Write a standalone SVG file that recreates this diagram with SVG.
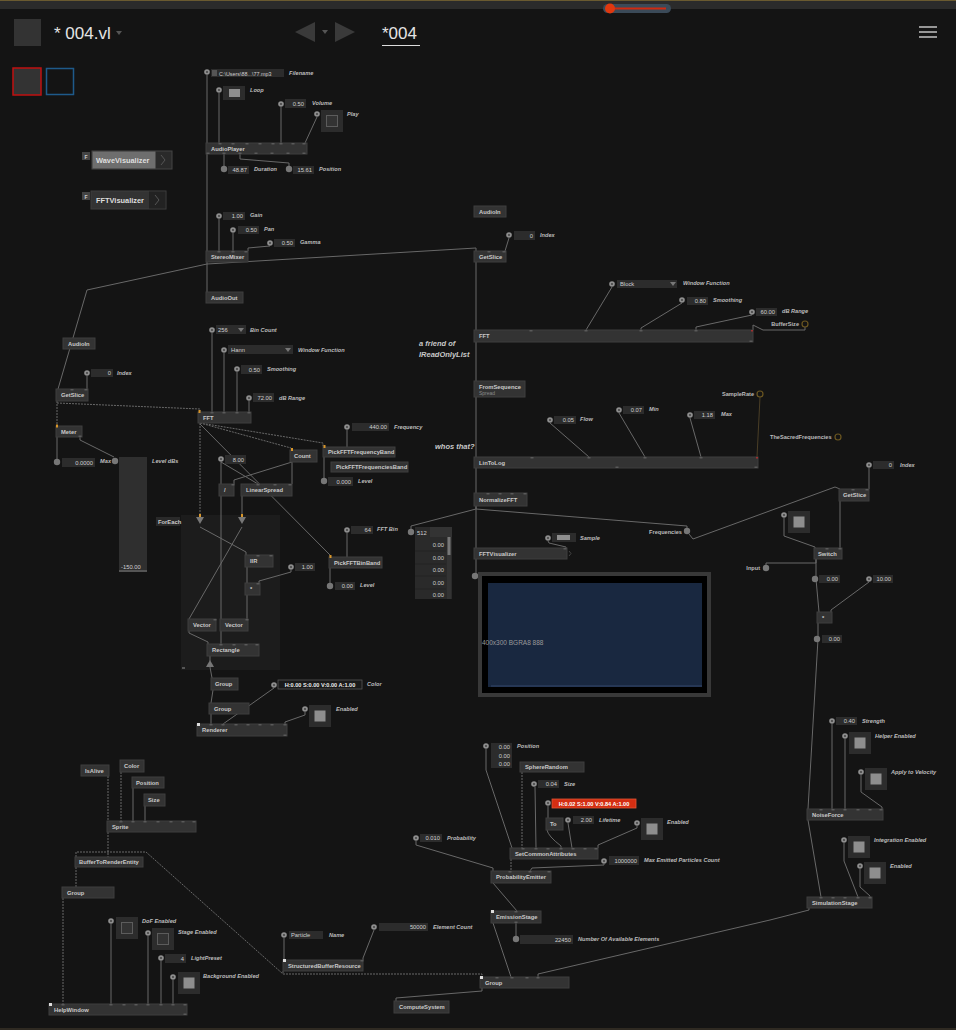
<svg xmlns="http://www.w3.org/2000/svg" xmlns:xlink="http://www.w3.org/1999/xlink" width="956" height="1030" viewBox="0 0 956 1030">
<defs>
<style>
.n{fill:#333;stroke:#3f3f3f;stroke-width:1}
.t{font-family:"Liberation Sans",Arial,sans-serif;font-size:5.8px;font-weight:bold;fill:#cacaca}
.l{font-family:"Liberation Sans",Arial,sans-serif;font-size:5.6px;font-weight:bold;font-style:italic;fill:#bdbdbd}
.p{font-family:"Liberation Sans",Arial,sans-serif;font-size:5.6px;font-weight:bold;fill:#bdbdbd}
.pe{font-family:"Liberation Sans",Arial,sans-serif;font-size:5.6px;font-weight:bold;fill:#bdbdbd;text-anchor:end}
.v{font-family:"Liberation Sans",Arial,sans-serif;font-size:5.8px;fill:#cfcfcf;text-anchor:end}
.vl{font-family:"Liberation Sans",Arial,sans-serif;font-size:5.8px;fill:#cfcfcf}
.c{font-family:"Liberation Sans",Arial,sans-serif;font-size:7.5px;font-weight:bold;font-style:italic;fill:#c8c8c8}
.b{fill:#2c2c2c}
.w{fill:none;stroke:#686868;stroke-width:1}
.d{fill:none;stroke:#686868;stroke-width:1;stroke-dasharray:2 1}
.on{fill:#8e8e8e}
.off{fill:#333;stroke:#5c5c5c;stroke-width:1}
.or{fill:#d8962a}
.hc{fill:none;stroke:#6b5620;stroke-width:1.2}
.hd{font-family:"Liberation Sans",Arial,sans-serif;font-size:17px;fill:#e4e4e4}
.pt{fill:#5a5a5a}
</style>
<g id="pin"><circle r="2.8" fill="#8e8e8e"/><circle r="0.9" fill="#3a3a3a"/></g>
<circle id="pout" r="3.2" fill="#777"/>
<g id="tgon"><rect width="22" height="22" class="b"/><rect x="5.5" y="5.5" width="11" height="11" class="on"/></g>
<g id="tgoff"><rect width="22" height="22" class="b"/><rect x="5.5" y="5.5" width="11" height="11" class="off"/></g>
<polygon id="dd" points="-3,-2 3,-2 0,2" fill="#777"/>
<polygon id="spd" points="-4,0 4,0 0,7" fill="#777"/>
<rect id="tab" x="-1.5" width="3" height="1.5" class="pt"/>
</defs>

<rect width="956" height="1030" fill="#141414"/>
<g id="topbar">
<rect width="956" height="9" fill="#2b2b2b"/>
<line x1="0" y1="0.5" x2="956" y2="0.5" stroke="#6a5a30"/>
<rect x="603" y="4" width="68" height="9" rx="4.5" fill="#3b4a58"/>
<line x1="610" y1="8.5" x2="666" y2="8.5" stroke="#d02a10" stroke-width="2"/>
<circle cx="610" cy="8.5" r="5" fill="#e0380f"/>
<rect x="14" y="19" width="27" height="27" fill="#333"/>
<text class="hd" x="54" y="39">* 004.vl</text>
<polygon points="116,31 122,31 119,35" fill="#555"/>
<polygon points="295,32 315,22 315,42" fill="#3a3a3a"/>
<polygon points="322,30 328,30 325,34" fill="#555"/>
<polygon points="335,22 355,32 335,42" fill="#3a3a3a"/>
<text class="hd" x="382" y="39">*004</text>
<line x1="382" y1="45.5" x2="420" y2="45.5" stroke="#ddd"/>
<g stroke="#ddd" stroke-width="1.3"><line x1="919" y1="27" x2="937" y2="27"/><line x1="919" y1="32" x2="937" y2="32"/><line x1="919" y1="37" x2="937" y2="37"/></g>
<rect x="13" y="68" width="28" height="27" fill="#333" stroke="#c01010" stroke-width="1.5"/>
<rect x="46.5" y="68.5" width="27" height="26" fill="#141414" stroke="#1e5a8a" stroke-width="1.5"/>
</g>

<rect id="foreach-region" x="181" y="515" width="99" height="155" fill="#1c1c1c"/>

<g id="wires">
<path class="w" d="M207,75V143"/>
<path class="w" d="M219,93V143"/>
<path class="w" d="M281,107V143"/>
<path class="w" d="M317,117Q311,130 305,143"/>
<path class="w" d="M224,154V166"/>
<path class="w" d="M240,154V159L289,163V166"/>
<path class="w" d="M207,154V251"/>
<path class="w" d="M219,219V251"/>
<path class="w" d="M233,233V251"/>
<path class="w" d="M270,246L248,248V251"/>
<path class="w" d="M207,262V292"/>
<path class="w" d="M207,264L87,290L58,389"/>
<path class="w" d="M207,264L476,248V251"/>
<path class="w" d="M509,238L505,251"/>
<path class="w" d="M476,262V574"/>
<path class="w" d="M612,287L586,330"/>
<path class="w" d="M682,303L641,328V330"/>
<path class="w" d="M752,315L696,327V330"/>
<path class="w" d="M753,330V325L763,330H805V327"/>
<path class="w" d="M550,423L589,457"/>
<path class="w" d="M619,413L645,457"/>
<path class="w" d="M690,418L701,457"/>
<path fill="none" stroke="#4a3e26" d="M760,397L757,457"/>
<path class="w" d="M476,506V509L411,526V529"/>
<path class="w" d="M476,509L687,526V528"/>
<path class="w" d="M689,534L693,539L835,487L840,489"/>
<path class="w" d="M548,541L549,543L566,547V548"/>
<path class="w" d="M869,468V489"/>
<path class="w" d="M840,501V548"/>
<path class="w" d="M784,518V536L815,547V548"/>
<path class="w" d="M816,559V563H766V566"/>
<path class="w" d="M816,559V579L819,612"/>
<path class="w" d="M869,582L831,610V612"/>
<path class="w" d="M818,623V639L808,809"/>
<path class="w" d="M832,724V809"/>
<path class="w" d="M845,739V809"/>
<path class="w" d="M861,775V792L882,807V809"/>
<path class="w" d="M808,820L821,897"/>
<path class="w" d="M844,843V861L858,897"/>
<path class="w" d="M860,869V887L870,896V897"/>
<path class="w" d="M809,908V910L770,920L538,974V977"/>
<path class="w" d="M486,749V770L512,848"/>
<path class="d" d="M522,772V848"/>
<path class="w" d="M535,787L536,848"/>
<path class="w" d="M548,806V818"/>
<path class="w" d="M547,830Q548,836 561,846V848"/>
<path class="w" d="M568,823L572,848"/>
<path class="w" d="M637,826V828L598,845V848"/>
<path class="d" d="M511,859V871"/>
<path class="w" d="M416,841V845L493,868V871"/>
<path class="w" d="M604,864V865L532,868L530,871"/>
<path class="w" d="M493,883L517,911"/>
<path class="w" d="M516,923V936"/>
<path class="w" d="M493,923L511,977"/>
<path class="w" d="M284,938V960"/>
<path class="w" d="M374,930L363,958V960"/>
<path class="d" d="M283,971V974H482V977"/>
<path class="d" d="M76,857V852H146L283,974"/>
<path class="w" d="M482,988V991L396,998V1001"/>
<path class="d" d="M108,776V821"/>
<path class="d" d="M121,772V821"/>
<path class="w" d="M133,788V821"/>
<path class="w" d="M145,806V821"/>
<path class="d" d="M108,832V857"/>
<path class="d" d="M76,867V887"/>
<path class="d" d="M63,898V1004"/>
<path class="w" d="M111,924V1004"/>
<path class="w" d="M148,936V1004"/>
<path class="w" d="M161,961V1004"/>
<path class="w" d="M173,980V1004"/>
<path class="w" d="M87,376V389"/>
<path class="d" d="M57,401V426"/>
<path class="d" d="M57,403L200,409V412"/>
<path class="w" d="M57,437V459"/>
<path class="w" d="M80,437V440L114,457"/>
<path class="w" d="M212,333V412"/>
<path class="w" d="M224,353V412"/>
<path class="w" d="M237,372V412"/>
<path class="w" d="M249,401V412"/>
<path class="d" d="M200,423V516"/>
<path class="d" d="M200,423L291,448V450"/>
<path class="d" d="M200,423L323,443V447"/>
<path class="w" d="M200,424L330,555V557"/>
<path class="w" d="M221,462V619"/>
<path class="w" d="M221,462L258,484"/>
<path class="w" d="M292,462L234,480V484"/>
<path class="w" d="M292,462V484"/>
<path class="w" d="M347,430V447"/>
<path class="w" d="M324,457V478"/>
<path class="w" d="M347,533V557"/>
<path class="w" d="M330,568V583"/>
<path class="w" d="M242,496V516"/>
<path class="w" d="M200,527L246,552V555"/>
<path class="w" d="M242,527L189,619"/>
<path class="w" d="M247,567V583"/>
<path class="w" d="M291,570V572L259,581V583"/>
<path class="w" d="M247,595V619"/>
<path class="w" d="M189,631V633L208,642V644"/>
<path class="w" d="M221,631V644"/>
<path class="w" d="M210,656V661"/>
<path class="w" d="M210,667L212,678"/>
<path class="w" d="M213,690L211,703"/>
<path class="w" d="M211,714V724"/>
<path class="w" d="M274,688L250,705L223,724"/>
<path class="w" d="M305,712V715L285,722V724"/>
</g>

<g id="audio-player">
<use xlink:href="#pin" x="207" y="72"/>
<rect x="211" y="69" width="73" height="8" class="b"/>
<rect x="212" y="70" width="5" height="6" fill="#555"/>
<text class="vl" x="219" y="75.5" style="font-size:5.4px">C:\Users\88...\77.mp3</text>
<text class="l" x="289" y="75">Filename</text>
<use xlink:href="#pin" x="219" y="90"/>
<rect x="223" y="86" width="22" height="14" class="b"/>
<rect x="229" y="89" width="11" height="8" class="on"/>
<text class="l" x="250" y="92">Loop</text>
<use xlink:href="#pin" x="281" y="104"/>
<rect x="285" y="99" width="21" height="9" class="b"/>
<text class="v" x="304" y="105.5">0.50</text>
<text class="l" x="312" y="105">Volume</text>
<use xlink:href="#pin" x="317" y="114"/>
<use xlink:href="#tgoff" x="321" y="110"/>
<text class="l" x="347" y="116">Play</text>
<rect x="206" y="143" width="101" height="11" class="n"/>
<text class="t" x="211" y="150.5">AudioPlayer</text>
<use xlink:href="#pout" x="224" y="169"/>
<rect x="228" y="166" width="21" height="8" class="b"/>
<text class="v" x="247" y="172">48.87</text>
<text class="l" x="254" y="171">Duration</text>
<use xlink:href="#pout" x="289" y="169"/>
<rect x="293" y="166" width="21" height="8" class="b"/>
<text class="v" x="312" y="172">15.61</text>
<text class="l" x="319" y="171">Position</text>
</g>

<g id="wave-visualizer">
<rect x="82" y="152" width="8" height="8" fill="#444"/>
<text x="84.5" y="158.5" style="font-family:'Liberation Sans',sans-serif;font-size:5px;font-weight:bold;fill:#ccc">F</text>
<rect x="92" y="151" width="80" height="18" fill="#2a2a2a" stroke="#444"/>
<rect x="92.5" y="151.5" width="63" height="17" fill="#6e6e6e"/>
<text x="96" y="163" style="font-family:'Liberation Sans',sans-serif;font-size:7.4px;font-weight:bold;fill:#dedede">WaveVisualizer</text>
<path d="M161,155L165,160L161,165" fill="none" stroke="#555"/>
</g>
<g id="fft-visualizer-doc">
<rect x="82" y="192" width="8" height="8" fill="#444"/>
<text x="84.5" y="198.5" style="font-family:'Liberation Sans',sans-serif;font-size:5px;font-weight:bold;fill:#ccc">F</text>
<rect x="91" y="191" width="75" height="18" fill="#333" stroke="#3f3f3f"/>
<rect x="149" y="191.5" width="16.5" height="17" fill="#222"/>
<text x="96" y="203" style="font-family:'Liberation Sans',sans-serif;font-size:7.4px;font-weight:bold;fill:#dedede">FFTVisualizer</text>
<path d="M155,195L159,200L155,205" fill="none" stroke="#555"/>
</g>

<g id="stereo-mixer">
<use xlink:href="#pin" x="219" y="216"/>
<rect x="223" y="212" width="22" height="8" class="b"/>
<text class="v" x="243" y="218">1.00</text>
<text class="l" x="250" y="217">Gain</text>
<use xlink:href="#pin" x="233" y="230"/>
<rect x="238" y="226" width="21" height="8" class="b"/>
<text class="v" x="257" y="232">0.50</text>
<text class="l" x="264" y="231">Pan</text>
<use xlink:href="#pin" x="270" y="243"/>
<rect x="274" y="239" width="21" height="8" class="b"/>
<text class="v" x="293" y="245">0.50</text>
<text class="l" x="300" y="244">Gamma</text>
<rect x="206" y="251" width="42" height="11" class="n"/>
<text class="t" x="211" y="258.5">StereoMixer</text>
</g>
<g id="audio-out"><rect x="206" y="292" width="37" height="11" class="n"/><text class="t" x="211" y="299.5">AudioOut</text></g>

<g id="audioin-r"><rect x="474" y="206" width="32" height="11" class="n"/><text class="t" x="479" y="213.5">AudioIn</text></g>
<g id="getslice-r">
<use xlink:href="#pin" x="509" y="235"/>
<rect x="514" y="231" width="21" height="9" class="b"/>
<text class="v" x="533" y="237.5">0</text>
<text class="l" x="540" y="237">Index</text>
<rect x="474" y="251" width="32" height="11" class="n"/><text class="t" x="479" y="258.5">GetSlice</text>
</g>
<g id="fft-r">
<use xlink:href="#pin" x="612" y="284"/>
<rect x="617" y="280" width="60" height="8" class="b"/>
<text class="vl" x="620" y="286">Block</text>
<use xlink:href="#dd" x="673" y="284"/>
<text class="l" x="683" y="285">Window Function</text>
<use xlink:href="#pin" x="682" y="300"/>
<rect x="687" y="297" width="21" height="8" class="b"/>
<text class="v" x="706" y="303">0.80</text>
<text class="l" x="713" y="302">Smoothing</text>
<use xlink:href="#pin" x="752" y="312"/>
<rect x="756" y="308" width="21" height="8" class="b"/>
<text class="v" x="775" y="314">60.00</text>
<text class="l" x="782" y="313">dB Range</text>
<text class="pe" x="799" y="326">BufferSize</text>
<circle cx="805" cy="324" r="3" class="hc"/>
<rect x="474" y="330" width="279" height="12" class="n"/>
<rect x="751" y="330" width="2" height="1.5" fill="#a03030"/>
<text class="t" x="479" y="338">FFT</text>
</g>
<g id="comments">
<text class="c" x="419" y="346">a friend of</text>
<text class="c" x="419" y="357">IReadOnlyList</text>
<text class="c" x="435" y="449">whos that?</text>
</g>
<g id="fromsequence">
<rect x="474" y="381" width="51" height="16" class="n"/>
<text class="t" x="479" y="388.5">FromSequence</text>
<text x="479" y="395" style="font-family:'Liberation Sans',sans-serif;font-size:5px;fill:#8a8a8a">Spread</text>
</g>
<g id="lintolog">
<use xlink:href="#pin" x="550" y="420"/>
<rect x="554" y="416" width="22" height="8" class="b"/>
<text class="v" x="574" y="422">0.05</text>
<text class="l" x="580" y="421">Flow</text>
<use xlink:href="#pin" x="619" y="410"/>
<rect x="623" y="406" width="21" height="8" class="b"/>
<text class="v" x="642" y="412">0.07</text>
<text class="l" x="649" y="411">Min</text>
<use xlink:href="#pin" x="690" y="415"/>
<rect x="694" y="411" width="21" height="8" class="b"/>
<text class="v" x="713" y="417">1.18</text>
<text class="l" x="721" y="416">Max</text>
<text class="pe" x="754" y="396">SampleRate</text>
<circle cx="760" cy="394" r="3" class="hc"/>
<text class="p" x="770" y="439">TheSacredFrequencies</text>
<circle cx="838" cy="437" r="3" class="hc"/>
<rect x="474" y="457" width="284" height="11" class="n"/>
<rect x="756" y="457" width="2" height="1.5" fill="#a03030"/>
<text class="t" x="479" y="464.5">LinToLog</text>
</g>
<g id="normalizefft"><rect x="474" y="493" width="53" height="13" class="n"/><text class="t" x="479" y="501.5">NormalizeFFT</text></g>
<g id="spread-512">
<use xlink:href="#pout" x="411" y="532"/>
<rect x="415" y="527" width="37" height="72" fill="#2a2a2a"/>
<rect x="415" y="527" width="37" height="10" fill="#333"/>
<rect x="415" y="527" width="15" height="10" fill="#2a2a2a"/>
<text class="vl" x="417" y="534.5">512</text>
<rect x="447" y="537" width="4" height="62" fill="#333"/>
<rect x="447.5" y="537" width="3" height="18" fill="#777"/>
<g stroke="#232323"><line x1="415" y1="551" x2="446" y2="551"/><line x1="415" y1="564" x2="446" y2="564"/><line x1="415" y1="576" x2="446" y2="576"/><line x1="415" y1="589" x2="446" y2="589"/></g>
<text class="v" x="444" y="547">0.00</text>
<text class="v" x="444" y="560">0.00</text>
<text class="v" x="444" y="572">0.00</text>
<text class="v" x="444" y="585">0.00</text>
<text class="v" x="444" y="597">0.00</text>
</g>
<g id="frequencies-pin">
<text class="pe" x="682" y="534">Frequencies</text>
<use xlink:href="#pout" x="687" y="531"/>
</g>
<g id="fftvisualizer">
<use xlink:href="#pin" x="548" y="538"/>
<rect x="552" y="533" width="24" height="9" class="b"/>
<rect x="557" y="535" width="13" height="5" class="on"/>
<text class="l" x="580" y="540">Sample</text>
<rect x="474" y="548" width="93" height="11" class="n"/>
<text class="t" x="479" y="555.5">FFTVisualizer</text>
<path d="M569,551L571,553.5L569,556" fill="none" stroke="#444"/>
<use xlink:href="#pout" x="475" y="576"/>
</g>
<g id="preview">
<rect x="478" y="572" width="233" height="125" fill="#383838"/>
<rect x="482" y="576" width="225" height="117" fill="#000"/>
<rect x="488" y="583" width="214" height="104" fill="#192840"/>
<line x1="491" y1="686" x2="702" y2="686" stroke="#34466a"/>
<text x="482" y="645" style="font-family:'Liberation Sans',sans-serif;font-size:6.5px;fill:#9a9a9a">400x300 BGRA8 888</text>
</g>

<g id="getslice-rr">
<use xlink:href="#pin" x="869" y="465"/>
<rect x="873" y="461" width="21" height="8" class="b"/>
<text class="v" x="892" y="467">0</text>
<text class="l" x="900" y="467">Index</text>
<rect x="839" y="489" width="30" height="12" class="n"/><text class="t" x="843" y="497">GetSlice</text>
</g>
<g id="switch">
<use xlink:href="#pin" x="784" y="515"/>
<use xlink:href="#tgon" x="788" y="511"/>
<rect x="814" y="548" width="28" height="11" class="n"/><text class="t" x="818" y="555.5">Switch</text>
<text class="pe" x="760" y="570">Input</text>
<use xlink:href="#pout" x="766" y="568"/>
<use xlink:href="#pout" x="815" y="579"/>
<rect x="819" y="575" width="21" height="8" class="b"/>
<text class="v" x="838" y="581">0.00</text>
</g>
<g id="multiply-r">
<use xlink:href="#pin" x="869" y="579"/>
<rect x="873" y="575" width="20" height="8" class="b"/>
<text class="v" x="891" y="581">10.00</text>
<rect x="817" y="612" width="15" height="11" class="n"/><text class="t" x="822" y="620">*</text>
<use xlink:href="#pout" x="817" y="639"/>
<rect x="822" y="635" width="20" height="8" class="b"/>
<text class="v" x="840" y="641">0.00</text>
</g>
<g id="noiseforce">
<use xlink:href="#pin" x="832" y="721"/>
<rect x="836" y="717" width="21" height="8" class="b"/>
<text class="v" x="855" y="723">0.40</text>
<text class="l" x="862" y="723">Strength</text>
<use xlink:href="#pin" x="845" y="736"/>
<use xlink:href="#tgon" x="849" y="732"/>
<text class="l" x="875" y="738">Helper Enabled</text>
<use xlink:href="#pin" x="861" y="772"/>
<use xlink:href="#tgon" x="865" y="768"/>
<text class="l" x="891" y="774">Apply to Velocity</text>
<rect x="807" y="809" width="76" height="11" class="n"/><text class="t" x="812" y="816.5">NoiseForce</text>
</g>
<g id="simulationstage">
<use xlink:href="#pin" x="844" y="840"/>
<use xlink:href="#tgon" x="848" y="836"/>
<text class="l" x="874" y="842">Integration Enabled</text>
<use xlink:href="#pin" x="860" y="866"/>
<use xlink:href="#tgon" x="864" y="862"/>
<text class="l" x="890" y="868">Enabled</text>
<rect x="807" y="897" width="65" height="11" class="n"/><text class="t" x="812" y="904.5">SimulationStage</text>
</g>

<g id="audioin-l"><rect x="63" y="338" width="32" height="11" class="n"/><text class="t" x="68" y="345.5">AudioIn</text></g>
<g id="getslice-l">
<use xlink:href="#pin" x="87" y="373"/>
<rect x="91" y="369" width="22" height="8" class="b"/>
<text class="v" x="111" y="375">0</text>
<text class="l" x="117" y="375">Index</text>
<rect x="56" y="389" width="32" height="12" class="n"/><text class="t" x="61" y="397">GetSlice</text>
</g>
<g id="meter">
<rect x="56" y="426" width="26" height="11" class="n"/><rect x="56" y="424.5" width="2" height="3" class="or"/>
<text class="t" x="61" y="433.5">Meter</text>
<use xlink:href="#pout" x="57" y="462"/>
<rect x="62" y="458" width="33" height="9" class="b"/>
<text class="v" x="93" y="464.5">0.0000</text>
<text class="l" x="111" y="463" text-anchor="end">Max</text>
<use xlink:href="#pout" x="115" y="461"/>
<rect x="119" y="457" width="28" height="115" fill="#2f2f2f"/>
<rect x="119" y="570" width="28" height="2" fill="#555"/>
<text x="121" y="569" style="font-family:'Liberation Sans',sans-serif;font-size:5.8px;fill:#cfcfcf">-150.00</text>
<text class="l" x="152" y="463">Level dBs</text>
</g>
<g id="fft-l">
<use xlink:href="#pin" x="212" y="330"/>
<rect x="216" y="325" width="30" height="9" class="b"/>
<text class="vl" x="218" y="331.5">256</text>
<use xlink:href="#dd" x="241" y="330"/>
<text class="l" x="250" y="332">Bin Count</text>
<use xlink:href="#pin" x="224" y="350"/>
<rect x="228" y="345" width="65" height="9" class="b"/>
<text class="vl" x="231" y="351.5">Hann</text>
<use xlink:href="#dd" x="288" y="350"/>
<text class="l" x="298" y="352">Window Function</text>
<use xlink:href="#pin" x="237" y="369"/>
<rect x="241" y="365" width="21" height="9" class="b"/>
<text class="v" x="260" y="371.5">0.50</text>
<text class="l" x="267" y="371">Smoothing</text>
<use xlink:href="#pin" x="249" y="398"/>
<rect x="253" y="393" width="21" height="9" class="b"/>
<text class="v" x="272" y="399.5">72.00</text>
<text class="l" x="279" y="400">dB Range</text>
<rect x="198" y="412" width="53" height="11" class="n"/><rect x="198.5" y="410" width="2" height="3" class="or"/>
<text class="t" x="203" y="419.5">FFT</text>
</g>
<g id="count"><rect x="290" y="450" width="27" height="12" class="n"/><rect x="291" y="448" width="2" height="3" class="or"/><text class="t" x="294" y="458">Count</text></g>
<g id="value-8">
<use xlink:href="#pin" x="221" y="459"/>
<rect x="225" y="455" width="21" height="9" class="b"/>
<text class="v" x="244" y="461.5">8.00</text>
</g>
<g id="divide"><rect x="219" y="484" width="15" height="12" class="n"/><text class="t" x="224" y="492">/</text></g>
<g id="linearspread"><rect x="241" y="484" width="51" height="12" class="n"/><text class="t" x="246" y="492">LinearSpread</text></g>
<g id="pickfftfrequencyband">
<use xlink:href="#pin" x="347" y="427"/>
<rect x="352" y="423" width="37" height="8" class="b"/>
<text class="v" x="387" y="429">440.00</text>
<text class="l" x="394" y="429">Frequency</text>
<rect x="323" y="447" width="72" height="10" class="n"/><rect x="323.5" y="445" width="2" height="3" class="or"/>
<text class="t" x="328" y="454">PickFFTFrequencyBand</text>
<use xlink:href="#pout" x="324" y="481"/>
<rect x="328" y="477" width="25" height="9" class="b"/>
<text class="v" x="351" y="483.5">0.000</text>
<text class="l" x="358" y="483">Level</text>
</g>
<g id="pickfftfrequenciesband"><rect x="331" y="462" width="77" height="10" class="n"/><text class="t" x="336" y="469">PickFFTFrequenciesBand</text></g>
<g id="pickfftbinband">
<use xlink:href="#pin" x="347" y="530"/>
<rect x="351" y="526" width="22" height="8" class="b"/>
<text class="v" x="371" y="532">64</text>
<text class="l" x="377" y="531">FFT Bin</text>
<rect x="329" y="557" width="53" height="11" class="n"/><rect x="329.5" y="555" width="2" height="3" class="or"/>
<text class="t" x="334" y="564.5">PickFFTBinBand</text>
<use xlink:href="#pout" x="330" y="586"/>
<rect x="335" y="582" width="20" height="8" class="b"/>
<text class="v" x="353" y="588">0.00</text>
<text class="l" x="360" y="587">Level</text>
</g>
<g id="foreach">
<rect x="156" y="517" width="24" height="9" fill="#2a2a2a"/>
<text class="t" x="158" y="523.5">ForEach</text>
<rect x="199" y="514" width="2" height="3" class="or"/>
<use xlink:href="#spd" x="200" y="517"/>
<rect x="241" y="514" width="2" height="3" class="or"/>
<use xlink:href="#spd" x="242" y="517"/>
<polygon points="206,667 214,667 210,660" fill="#777"/>
<rect x="182" y="667" width="3" height="2" fill="#555"/>
</g>
<g id="iir"><rect x="245" y="555" width="28" height="12" class="n"/><text class="t" x="250" y="563">IIR</text></g>
<g id="multiply-l">
<use xlink:href="#pin" x="291" y="567"/>
<rect x="295" y="563" width="20" height="8" class="b"/>
<text class="v" x="313" y="569">1.00</text>
<rect x="245" y="583" width="15" height="12" class="n"/><text class="t" x="250" y="591">*</text>
</g>
<g id="vector-l"><rect x="188" y="619" width="28" height="12" class="n"/><text class="t" x="193" y="627">Vector</text></g>
<g id="vector-r"><rect x="220" y="619" width="28" height="12" class="n"/><text class="t" x="225" y="627">Vector</text></g>
<g id="rectangle"><rect x="207" y="644" width="52" height="12" class="n"/><text class="t" x="212" y="652">Rectangle</text></g>
<g id="group-1"><rect x="211" y="678" width="27" height="12" class="n"/><text class="t" x="215" y="686">Group</text></g>
<g id="group-2"><rect x="209" y="703" width="40" height="11" class="n"/><text class="t" x="214" y="710.5">Group</text></g>
<g id="renderer">
<use xlink:href="#pin" x="274" y="685"/>
<rect x="278" y="680" width="84" height="9" fill="#1a1a1a" stroke="#555" stroke-width="0.8"/>
<text x="320" y="686.8" text-anchor="middle" style="font-family:'Liberation Sans',sans-serif;font-size:5.6px;font-weight:bold;fill:#eee">H:0.00 S:0.00 V:0.00 A:1.00</text>
<text class="l" x="367" y="686">Color</text>
<use xlink:href="#pin" x="305" y="709"/>
<use xlink:href="#tgon" x="309" y="705"/>
<text class="l" x="336" y="711">Enabled</text>
<rect x="197" y="724" width="90" height="12" class="n"/><rect x="197" y="723" width="3" height="3" fill="#ddd"/>
<text class="t" x="202" y="732">Renderer</text>
</g>

<g id="sprite">
<rect x="81" y="765" width="28" height="11" class="n"/><text class="t" x="85" y="772.5">IsAlive</text>
<rect x="120" y="760" width="24" height="12" class="n"/><text class="t" x="124" y="768">Color</text>
<rect x="132" y="777" width="32" height="11" class="n"/><text class="t" x="136" y="784.5">Position</text>
<rect x="144" y="794" width="21" height="12" class="n"/><text class="t" x="148" y="802">Size</text>
<rect x="107" y="821" width="89" height="11" class="n"/><text class="t" x="112" y="828.5">Sprite</text>
</g>
<g id="buffertorenderentity"><rect x="75" y="857" width="68" height="10" class="n"/><text class="t" x="79" y="864">BufferToRenderEntity</text></g>
<g id="group-left"><rect x="62" y="887" width="52" height="11" class="n"/><text class="t" x="67" y="894.5">Group</text></g>
<g id="helpwindow">
<use xlink:href="#pin" x="111" y="921"/>
<use xlink:href="#tgoff" x="116" y="917"/>
<text class="l" x="142" y="923">DoF Enabled</text>
<use xlink:href="#pin" x="148" y="933"/>
<use xlink:href="#tgoff" x="152" y="928"/>
<text class="l" x="178" y="934">Stage Enabled</text>
<use xlink:href="#pin" x="161" y="958"/>
<rect x="165" y="954" width="21" height="9" class="b"/>
<text class="v" x="184" y="960.5">4</text>
<text class="l" x="191" y="960">LightPreset</text>
<use xlink:href="#pin" x="173" y="977"/>
<use xlink:href="#tgon" x="178" y="972"/>
<text class="l" x="203" y="978">Background Enabled</text>
<rect x="49" y="1004" width="138" height="11" class="n"/><rect x="49" y="1003" width="3" height="3" fill="#ddd"/>
<text class="t" x="54" y="1011.5">HelpWindow</text>
</g>

<g id="structuredbufferresource">
<use xlink:href="#pin" x="284" y="935"/>
<rect x="289" y="931" width="34" height="8" class="b"/>
<text class="vl" x="291" y="937">Particle</text>
<text class="l" x="329" y="937">Name</text>
<use xlink:href="#pin" x="374" y="927"/>
<rect x="379" y="923" width="49" height="8" class="b"/>
<text class="v" x="426" y="929">50000</text>
<text class="l" x="433" y="929">Element Count</text>
<rect x="283" y="960" width="80" height="11" class="n"/><rect x="283" y="959" width="3" height="3" fill="#ddd"/>
<text class="t" x="288" y="967.5">StructuredBufferResource</text>
</g>
<g id="emitter">
<use xlink:href="#pin" x="486" y="746"/>
<rect x="491" y="743" width="21" height="25" class="b"/>
<text class="v" x="510" y="749">0.00</text>
<text class="v" x="510" y="757.5">0.00</text>
<text class="v" x="510" y="766">0.00</text>
<text class="l" x="517" y="748">Position</text>
<rect x="520" y="762" width="64" height="10" class="n"/><text class="t" x="525" y="769">SphereRandom</text>
<use xlink:href="#pin" x="534" y="784"/>
<rect x="538" y="780" width="21" height="8" class="b"/>
<text class="v" x="557" y="786">0.04</text>
<text class="l" x="564" y="786">Size</text>
<use xlink:href="#pin" x="548" y="803"/>
<rect x="552" y="799" width="84" height="9" fill="#d42e12" stroke="#e05535" stroke-width="0.8"/>
<text x="594" y="805.8" text-anchor="middle" style="font-family:'Liberation Sans',sans-serif;font-size:5.6px;font-weight:bold;fill:#fff">H:0.02 S:1.00 V:0.84 A:1.00</text>
<rect x="546" y="818" width="17" height="12" class="n"/><text class="t" x="550" y="826">To</text>
<use xlink:href="#pin" x="568" y="820"/>
<rect x="573" y="816" width="21" height="8" class="b"/>
<text class="v" x="592" y="822">2.00</text>
<text class="l" x="599" y="822">Lifetime</text>
<use xlink:href="#pin" x="637" y="823"/>
<use xlink:href="#tgon" x="641" y="818"/>
<text class="l" x="667" y="824">Enabled</text>
<rect x="510" y="848" width="88" height="11" class="n"/><text class="t" x="515" y="855.5">SetCommonAttributes</text>
<use xlink:href="#pin" x="416" y="838"/>
<rect x="420" y="834" width="22" height="8" class="b"/>
<text class="v" x="440" y="840">0.010</text>
<text class="l" x="447" y="840">Probability</text>
<use xlink:href="#pin" x="604" y="861"/>
<rect x="609" y="856" width="30" height="9" class="b"/>
<text class="v" x="637" y="862.5">1000000</text>
<text class="l" x="644" y="862">Max Emitted Particles Count</text>
<rect x="491" y="871" width="60" height="12" class="n"/><text class="t" x="496" y="879">ProbabilityEmitter</text>
<rect x="491" y="911" width="50" height="12" class="n"/><rect x="491" y="910" width="3" height="3" fill="#ddd"/>
<text class="t" x="496" y="919">EmissionStage</text>
<use xlink:href="#pout" x="516" y="939"/>
<rect x="520" y="935" width="53" height="9" class="b"/>
<text class="v" x="571" y="941.5">22450</text>
<text class="l" x="578" y="941">Number Of Available Elements</text>
</g>
<g id="group-bottom"><rect x="480" y="977" width="89" height="11" class="n"/><rect x="480" y="976" width="3" height="3" fill="#ddd"/><text class="t" x="485" y="984.5">Group</text></g>
<g id="computesystem"><rect x="394" y="1001" width="55" height="12" class="n"/><text class="t" x="399" y="1009">ComputeSystem</text></g>

<g id="pin-tabs">
<use xlink:href="#tab" x="220" y="143"/><use xlink:href="#tab" x="233" y="143"/><use xlink:href="#tab" x="247" y="143"/><use xlink:href="#tab" x="260" y="143"/><use xlink:href="#tab" x="273" y="143"/><use xlink:href="#tab" x="281" y="143"/><use xlink:href="#tab" x="293" y="143"/><use xlink:href="#tab" x="304" y="143"/>
<use xlink:href="#tab" x="208" y="152.5"/><use xlink:href="#tab" x="224" y="152.5"/><use xlink:href="#tab" x="240" y="152.5"/><use xlink:href="#tab" x="256" y="152.5"/><use xlink:href="#tab" x="272" y="152.5"/><use xlink:href="#tab" x="288" y="152.5"/><use xlink:href="#tab" x="304" y="152.5"/>
<use xlink:href="#tab" x="219" y="251"/><use xlink:href="#tab" x="233" y="251"/><use xlink:href="#tab" x="246" y="251"/>
<use xlink:href="#tab" x="531" y="330"/><use xlink:href="#tab" x="586" y="330"/><use xlink:href="#tab" x="641" y="330"/><use xlink:href="#tab" x="696" y="330"/><use xlink:href="#tab" x="751" y="340.5"/>
<use xlink:href="#tab" x="532" y="457"/><use xlink:href="#tab" x="589" y="457"/><use xlink:href="#tab" x="645" y="457"/><use xlink:href="#tab" x="701" y="457"/><use xlink:href="#tab" x="617" y="466.5"/><use xlink:href="#tab" x="756" y="466.5"/>
<use xlink:href="#tab" x="488" y="493"/><use xlink:href="#tab" x="500" y="493"/><use xlink:href="#tab" x="512" y="493"/><use xlink:href="#tab" x="525" y="493"/>
<use xlink:href="#tab" x="565" y="548"/>
<use xlink:href="#tab" x="212" y="412"/><use xlink:href="#tab" x="224" y="412"/><use xlink:href="#tab" x="237" y="412"/><use xlink:href="#tab" x="249" y="412"/>
<use xlink:href="#tab" x="121" y="821"/><use xlink:href="#tab" x="133" y="821"/><use xlink:href="#tab" x="145" y="821"/><use xlink:href="#tab" x="158" y="821"/><use xlink:href="#tab" x="171" y="821"/><use xlink:href="#tab" x="183" y="821"/><use xlink:href="#tab" x="194" y="821"/>
<use xlink:href="#tab" x="211" y="724"/><use xlink:href="#tab" x="223" y="724"/><use xlink:href="#tab" x="236" y="724"/><use xlink:href="#tab" x="248" y="724"/><use xlink:href="#tab" x="260" y="724"/><use xlink:href="#tab" x="272" y="724"/><use xlink:href="#tab" x="285" y="724"/><use xlink:href="#tab" x="285" y="734.5"/>
<use xlink:href="#tab" x="63" y="1004"/><use xlink:href="#tab" x="111" y="1004"/><use xlink:href="#tab" x="124" y="1004"/><use xlink:href="#tab" x="136" y="1004"/><use xlink:href="#tab" x="148" y="1004"/><use xlink:href="#tab" x="161" y="1004"/><use xlink:href="#tab" x="173" y="1004"/><use xlink:href="#tab" x="185" y="1004"/><use xlink:href="#tab" x="185" y="1013.5"/>
<use xlink:href="#tab" x="821" y="809"/><use xlink:href="#tab" x="833" y="809"/><use xlink:href="#tab" x="845" y="809"/><use xlink:href="#tab" x="858" y="809"/><use xlink:href="#tab" x="870" y="809"/><use xlink:href="#tab" x="881" y="809"/>
<use xlink:href="#tab" x="821" y="897"/><use xlink:href="#tab" x="833" y="897"/><use xlink:href="#tab" x="845" y="897"/><use xlink:href="#tab" x="858" y="897"/><use xlink:href="#tab" x="870" y="897"/>
<use xlink:href="#tab" x="523" y="848"/><use xlink:href="#tab" x="536" y="848"/><use xlink:href="#tab" x="548" y="848"/><use xlink:href="#tab" x="561" y="848"/><use xlink:href="#tab" x="573" y="848"/><use xlink:href="#tab" x="585" y="848"/><use xlink:href="#tab" x="596" y="848"/>
<use xlink:href="#tab" x="510" y="871"/><use xlink:href="#tab" x="530" y="871"/><use xlink:href="#tab" x="549" y="871"/>
<use xlink:href="#tab" x="497" y="977"/><use xlink:href="#tab" x="512" y="977"/><use xlink:href="#tab" x="527" y="977"/><use xlink:href="#tab" x="538" y="977"/>
<use xlink:href="#tab" x="221" y="644"/><use xlink:href="#tab" x="234" y="644"/><use xlink:href="#tab" x="246" y="644"/><use xlink:href="#tab" x="257" y="644"/>
<use xlink:href="#tab" x="827" y="548"/><use xlink:href="#tab" x="840" y="548"/>
<use xlink:href="#tab" x="853" y="489"/><use xlink:href="#tab" x="867" y="489"/>
<use xlink:href="#tab" x="489" y="251"/><use xlink:href="#tab" x="504" y="251"/>
<use xlink:href="#tab" x="72" y="389"/><use xlink:href="#tab" x="86" y="389"/>
<use xlink:href="#tab" x="80" y="435.5"/>
<use xlink:href="#tab" x="258" y="484"/><use xlink:href="#tab" x="275" y="484"/><use xlink:href="#tab" x="290" y="484"/><use xlink:href="#tab" x="233" y="484"/>
<use xlink:href="#tab" x="258" y="555"/><use xlink:href="#tab" x="271" y="555"/><use xlink:href="#tab" x="258" y="583"/>
<use xlink:href="#tab" x="215" y="619"/><use xlink:href="#tab" x="247" y="619"/>
<use xlink:href="#tab" x="362" y="960"/><use xlink:href="#tab" x="516" y="911"/><use xlink:href="#tab" x="516" y="921.5"/>
</g>
<line x1="0" y1="1029" x2="956" y2="1029" stroke="#4a4030"/>
</svg>
